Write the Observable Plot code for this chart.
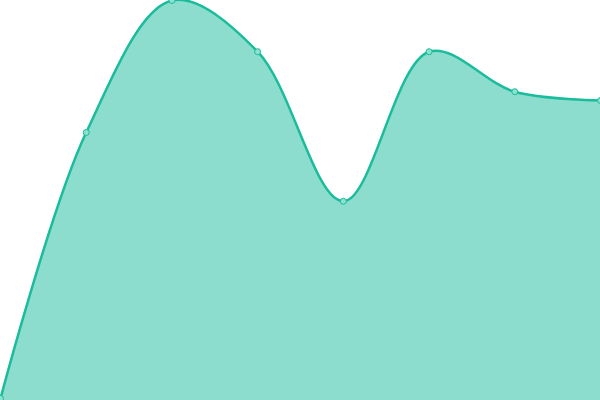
<!DOCTYPE html>
<html>
<head>
<meta charset="utf-8">
<script src="https://cdn.jsdelivr.net/npm/d3@7"></script>
<script src="https://cdn.jsdelivr.net/npm/@observablehq/plot@0.6"></script>
<style>
  html, body { margin: 0; padding: 0; background: #fff; }
  #chart svg { overflow: hidden; display: block; }
</style>
</head>
<body>
<div id="chart"></div>
<script>
const xs = [0, 1, 2, 3, 4, 5, 6, 7];
const values = [0.5, 67, 100, 87.2, 49.8, 87.2, 77.2, 75];
const data = xs.map((x, i) => ({x, y: values[i]}));
const teal = "#1abc9c";
const chart = Plot.plot({
  width: 600,
  height: 400,
  margin: 0,
  x: {domain: [0, 7], range: [0, 600], axis: null},
  y: {domain: [0, 100], range: [400, 0], axis: null},
  marks: [
    Plot.areaY(data, {x: "x", y: "y", curve: "catmull-rom", fill: teal, fillOpacity: 0.5}),
    Plot.lineY(data, {x: "x", y: "y", curve: "catmull-rom", stroke: teal, strokeWidth: 2.5}),
    Plot.dot(data, {x: "x", y: "y", r: 3, fill: "#8ee0d0", stroke: teal, strokeWidth: 1})
  ]
});
document.getElementById("chart").appendChild(chart);
</script>
</body>
</html>
